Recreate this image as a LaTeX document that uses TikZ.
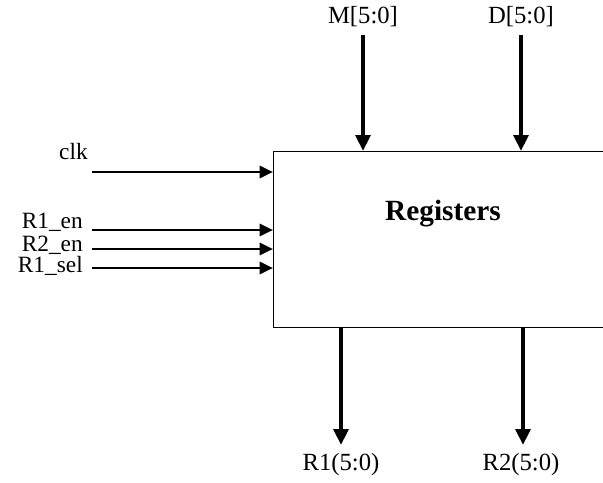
\documentclass[tikz,border=0pt]{standalone}
\usepackage{fontspec}
\setmainfont{Liberation Serif}
\usetikzlibrary{arrows.meta,positioning,calc}

\begin{document}
\begin{tikzpicture}[x=0.75pt,y=-0.75pt,
  every node/.style={align=center,font=\fontsize{18.5}{20}\selectfont},
  ctl/.style={anchor=east,inner sep=0pt,font=\fontsize{17.5}{19}\selectfont},
  bus/.style={line width=3.3pt,-{Triangle[length=12pt,width=11pt]}},
  wire/.style={line width=2.1pt,-{Triangle[length=10pt,width=9pt]}}]
\useasboundingbox (0,0) rectangle (603,482);
\clip (0,0) rectangle (603,482);
% register block (right side runs off the page)
\node[draw,line width=1.1pt,minimum width=255pt,minimum height=132pt,anchor=north west,inner sep=0pt] (R) at (273,151) {};
\node[font=\fontsize{22}{24}\selectfont\bfseries] (title) at (443,214) {Registers};
% inputs on top
\node (M) at (363,17) {M[5:0]};
\node (D) at (521,17) {D[5:0]};
\coordinate (Min) at (363,35);
\coordinate (Din) at (521,35);
\draw[bus] (Min) -- (Min |- R.north);
\draw[bus] (Din) -- (Din |- R.north);
% control inputs
\node[ctl] (clk) at (88,152) {clk};
\node[ctl] (en1) at (83,222.5) {R1\_en};
\node[ctl] (en2) at (83,245) {R2\_en};
\node[ctl] (sel) at (83,266) {R1\_sel};
\coordinate (clkin) at (92,172);
\coordinate (en1in) at (92,230);
\coordinate (en2in) at (92,249);
\coordinate (selin) at (92,268);
\draw[wire] (clkin) -- (clkin -| R.west);
\draw[wire] (en1in) -- (en1in -| R.west);
\draw[wire] (en2in) -- (en2in -| R.west);
\draw[wire] (selin) -- (selin -| R.west);
% outputs
\node (R1) at (341,465) {R1(5:0)};
\node (R2) at (521,465) {R2(5:0)};
\coordinate (R1out) at (341,445);
\coordinate (R2out) at (523,445);
\draw[bus] (R1out |- R.south) -- (R1out);
\draw[bus] (R2out |- R.south) -- (R2out);
\end{tikzpicture}
\end{document}
